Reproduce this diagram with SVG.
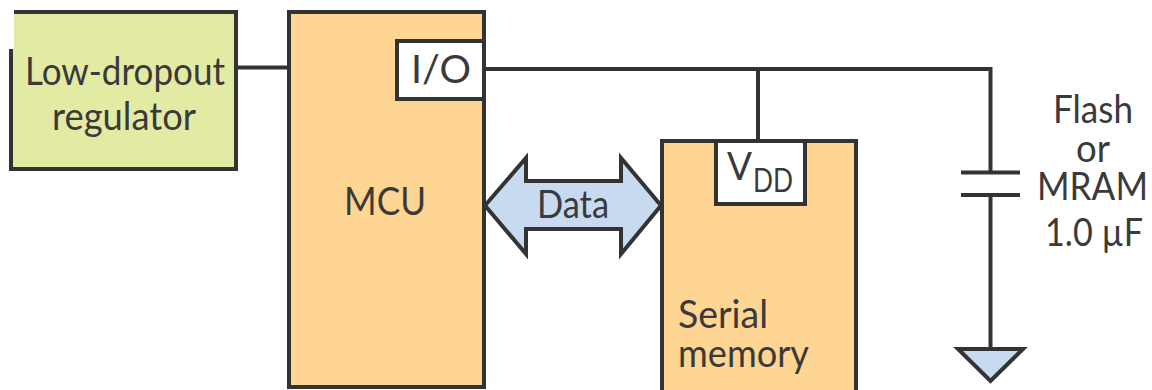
<svg xmlns="http://www.w3.org/2000/svg" width="1152" height="390" viewBox="0 0 1152 390">
<style>
.b{stroke:#333;stroke-width:4;stroke-linejoin:miter}
.w{fill:none;stroke:#333;stroke-width:4}
.or{fill:#fed592}
.bl{fill:#c8daf0}
text{font-family:"Lato","Liberation Sans",sans-serif;font-size:38px;fill:#3a3a3a;font-weight:400;text-anchor:middle}
.s{text-anchor:start}
</style>
<rect width="1152" height="390" fill="#fff"/>
<g id="connectors">
<path class="w" d="M236 67.500H288"/>
<path class="w" d="M485 69H990.500V171"/>
<path class="w" d="M758 69V140"/>
<path class="w" d="M990.500 195V349"/>
<path class="w" d="M961 172.500H1020"/>
<path class="w" d="M961 195H1020"/>
</g>
<g id="regulator">
<rect class="b" x="11" y="12" width="225" height="157" fill="#e3eaa4"/>
<rect x="0" y="0" width="14" height="49" fill="#fff"/>
<text class="s" x="25" y="85" textLength="200" lengthAdjust="spacingAndGlyphs">Low-dropout</text>
<text class="s" x="52" y="130" textLength="144" lengthAdjust="spacingAndGlyphs">regulator</text>
</g>
<g id="mcu">
<rect class="b or" x="289" y="12" width="195" height="375"/>
<rect class="b" x="397" y="41" width="87" height="58" fill="#fff"/>
<text class="s" x="411" y="83" textLength="60" lengthAdjust="spacingAndGlyphs">I/O</text>
<text class="s" x="344" y="215" textLength="82" lengthAdjust="spacingAndGlyphs">MCU</text>
</g>
<g id="data">
<path class="b bl" d="M485 205.500L526 158V181H621V158L661 205.500L621 254V229H526V254Z"/>
<text class="s" x="537" y="218" textLength="72" lengthAdjust="spacingAndGlyphs">Data</text>
</g>
<g id="memory">
<rect class="b or" x="662" y="141" width="194" height="260"/>
<rect class="b" x="716" y="141" width="89" height="63" fill="#fff"/>
<text class="s" x="727" y="180" textLength="25" lengthAdjust="spacingAndGlyphs">V</text>
<text class="s" x="753" y="192" style="font-size:32px" textLength="40" lengthAdjust="spacingAndGlyphs">DD</text>
<text class="s" x="678" y="328" textLength="90" lengthAdjust="spacingAndGlyphs">Serial</text>
<text class="s" x="678" y="367" textLength="131" lengthAdjust="spacingAndGlyphs">memory</text>
</g>
<g id="capacitor-label">
<text class="s" x="1053" y="123" textLength="80" lengthAdjust="spacingAndGlyphs">Flash</text>
<text class="s" x="1076" y="162" textLength="34" lengthAdjust="spacingAndGlyphs">or</text>
<text class="s" x="1037" y="200" textLength="111" lengthAdjust="spacingAndGlyphs">MRAM</text>
<text class="s" x="1045" y="246" textLength="98" lengthAdjust="spacingAndGlyphs">1.0 µF</text>
</g>
<g id="ground">
<path class="b bl" d="M958 349H1023L990.500 381Z"/>
</g>
</svg>
